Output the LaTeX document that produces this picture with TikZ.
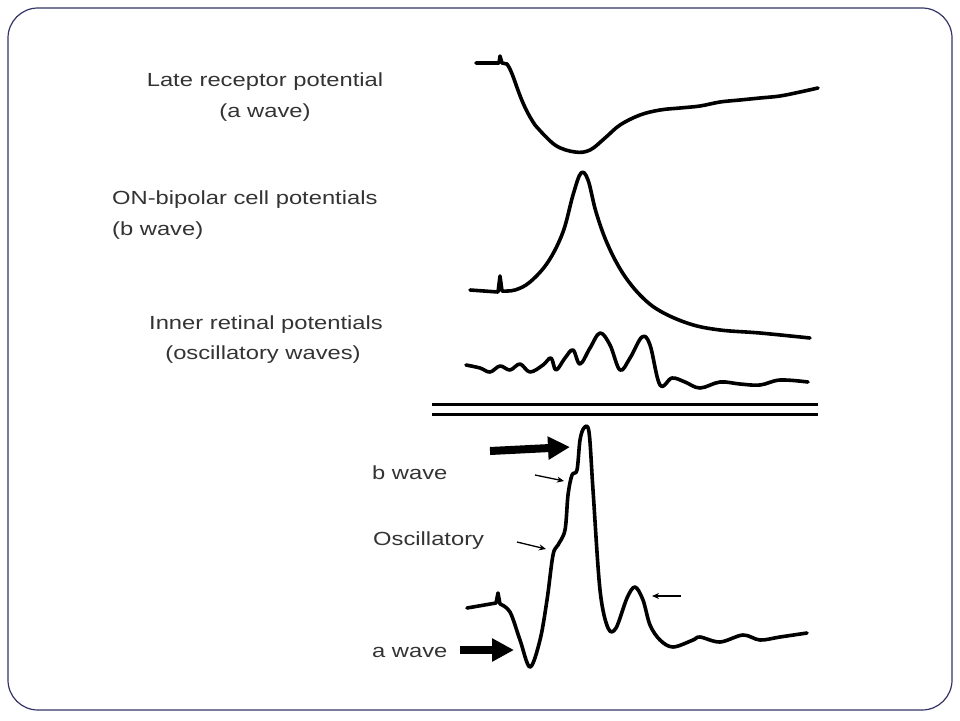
\documentclass[tikz,border=0pt]{standalone}
\usepackage{fontspec}
\setmainfont{Liberation Sans}
\usetikzlibrary{arrows.meta}
\newcommand{\lbl}[1]{\scalebox{1.25}[1]{#1}}
\begin{document}
\begin{tikzpicture}[x=1pt,y=-1pt,
  wave/.style={line width=3.6pt,line join=round,line cap=round},
  lab/.style={inner sep=0pt,text=black!80,font=\fontsize{19}{22}\selectfont},
  big/.style={line width=8pt,-{Triangle[length=22pt,width=22pt]}},
  small/.style={line width=1.3pt,-{Stealth[length=7pt,width=6pt]}}]
\useasboundingbox (0,0) rectangle (960,720);
\draw[line width=1.2pt,draw=black!75!blue!80, rounded corners=30pt] (8,8) rectangle (952,710);
% labels
\node[lab] (l1) at (265,82) {\lbl{Late receptor potential}};
\node[lab] (l1b) at (265,113) {\lbl{(a wave)}};
\node[lab,anchor=west] (l2) at (112,200) {\lbl{ON-bipolar cell potentials}};
\node[lab,anchor=west] (l2b) at (112,231) {\lbl{(b wave)}};
\node[lab] (l3) at (266,325) {\lbl{Inner retinal potentials}};
\node[lab] (l3b) at (263,355) {\lbl{(oscillatory waves)}};
\node[lab,anchor=west] (lb) at (372,473) {\lbl{b wave}};
\node[lab,anchor=west] (lo) at (373,541) {\lbl{Oscillatory}};
\node[lab,anchor=west] (la) at (372,652) {\lbl{a wave}};
% trace 1
\draw[wave] (476,63) -- (499,63) -- (500,56) -- (502,63) -- (507,64) .. controls (515,75) and (518,100) .. (535,125)
  plot[smooth,tension=0.6] coordinates {(535,125) (555,145) (575,152) (590,150) (605,138) (620,125) (640,115) (660,110) (680,108) (700,106) (720,102) (740,100) (760,98) (780,96) (800,92) (818,88)};
% trace 2
\draw[wave] (470,290) -- (498,292) -- (500,276) -- (502,291)
  plot[smooth,tension=0.6] coordinates {(502,291) (515,290) (530,282) (548,262) (563,232) (573,195) (581,173) (588,180) (596,212) (607,243) (622,272) (640,295) (660,311) (690,324) (720,330) (760,333) (810,338)};
% trace 3
\draw[wave] plot[smooth,tension=0.6] coordinates {(466,365) (480,368) (490,372) (500,366) (510,370) (520,364) (530,372) (543,365) (551,358) (556,370) (565,358) (573,350) (580,364) (590,348) (600,333) (610,345) (620,370) (630,358) (642,337) (650,345) (660,385) (672,378) (685,382) (700,388) (720,382) (740,384) (760,385) (780,380) (808,382)};
% separator
\draw[line width=3pt] (432,404) -- (818,404);
\draw[line width=3pt] (432,414) -- (818,414);
% bottom trace
\draw[wave] (467,608) -- (496,603) -- (498,593) -- (500,604)
  plot[smooth,tension=0.55] coordinates {(500,604) (510,612) (520,640) (530,667) (540,640) (547,600) (553,555) (558,545) (565,530) (568,495) (572,475) (577,470) (580,440) (584,428) (589,432) (593,490) (600,590) (608,628) (616,628) (627,598) (635,587) (643,600) (650,625) (660,640) (673,647) (693,640) (700,637) (720,642) (743,635) (760,640) (780,637) (807,633)};
% arrows
\coordinate (ba1) at (490,451); \coordinate (ba2) at (570,447);
\draw[big] (ba1) -- (ba2);
\coordinate (aa1) at (460,650); \coordinate (aa2) at (514,650);
\draw[big] (aa1) -- (aa2);
\coordinate (sb1) at (535,475); \coordinate (sb2) at (564,481);
\draw[small] (sb1) -- (sb2);
\coordinate (so1) at (517,542); \coordinate (so2) at (546,549);
\draw[small] (so1) -- (so2);
\coordinate (sp1) at (681,596); \coordinate (sp2) at (652,596);
\draw[small] (sp1) -- (sp2);
\end{tikzpicture}
\end{document}
